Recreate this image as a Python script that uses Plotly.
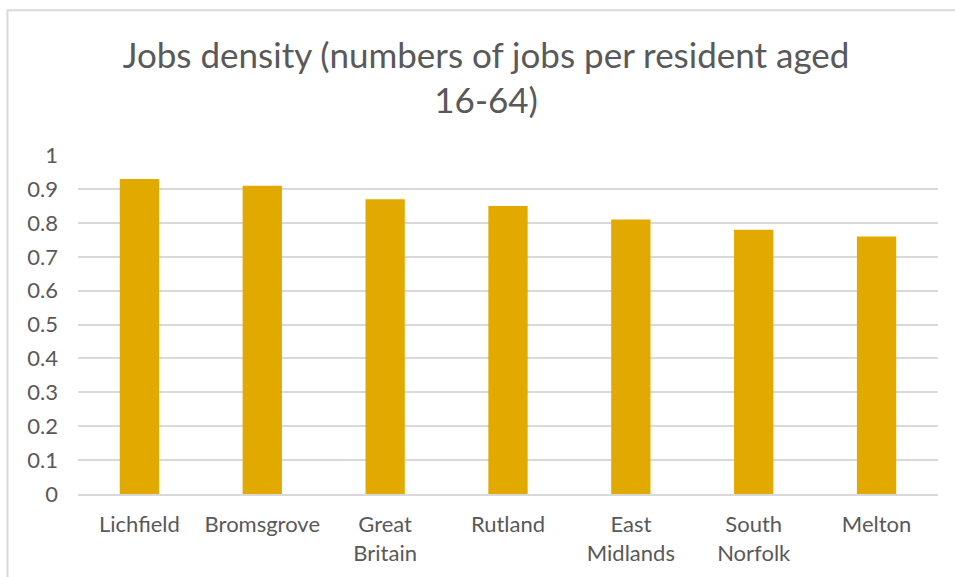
import plotly.graph_objects as go

categories = ["Lichfield", "Bromsgrove", "Great<br>Britain", "Rutland", "East<br>Midlands", "South<br>Norfolk", "Melton"]
values = [0.93, 0.91, 0.87, 0.85, 0.81, 0.78, 0.76]
tick_vals = [0, 0.1, 0.2, 0.3, 0.4, 0.5, 0.6, 0.7, 0.8, 0.9, 1]
tick_text = ["0", "0.1", "0.2", "0.3", "0.4", "0.5", "0.6", "0.7", "0.8", "0.9", "1"]

fig = go.Figure(go.Bar(x=categories, y=values, marker=dict(color="#E2AA00", line=dict(width=0))))

fig.update_layout(
    width=955, height=577,
    paper_bgcolor="white", plot_bgcolor="white",
    margin=dict(l=78, r=17, t=155, b=83),
    bargap=0.68,
    font=dict(family="Lato, sans-serif", color="#595959", size=22),
    title=dict(text="Jobs density (numbers of jobs per resident aged<br>16-64)",
               x=0.509, xanchor="center", y=0.883, yanchor="top",
               font=dict(size=35, color="#595959", family="Lato, sans-serif")),
    xaxis=dict(showgrid=False, showline=True, linecolor="#D9D9D9", linewidth=1.5,
               ticks="", ticklabelstandoff=10,
               tickfont=dict(size=22, color="#595959"), automargin=False),
    yaxis=dict(range=[0, 1.0005], tickvals=tick_vals, ticktext=tick_text,
               showgrid=True, gridcolor="#D9D9D9", gridwidth=1.5, zeroline=False,
               showline=False, ticks="", ticklabelstandoff=19,
               tickfont=dict(size=22, color="#595959"), automargin=False),
    shapes=[dict(type="rect", xref="paper", yref="paper",
                 x0=-0.082, x1=1.05, y0=-0.3, y1=1.427,
                 line=dict(color="#D9D9D9", width=2), fillcolor="rgba(0,0,0,0)", layer="below")],
)

fig.write_html("out.html", config={"displayModeBar": False},
               post_script="document.body.style.margin='0';")
